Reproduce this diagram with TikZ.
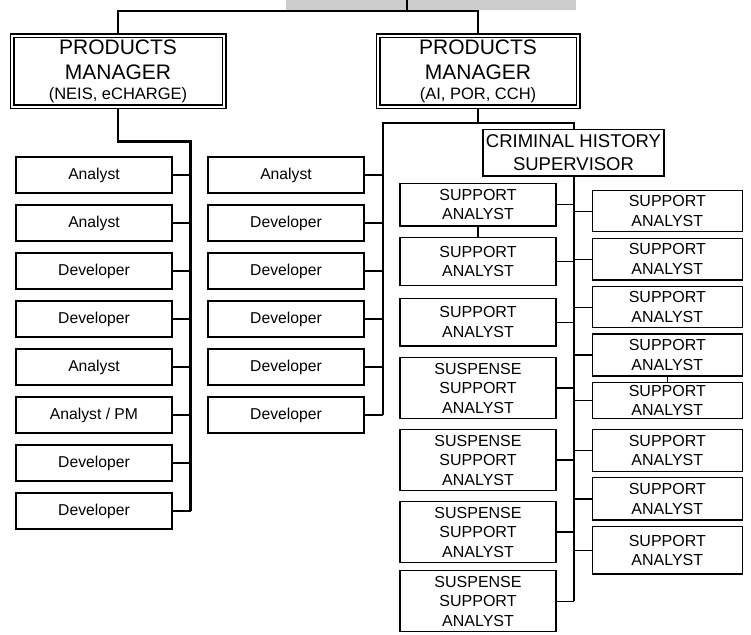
\documentclass[tikz,border=0pt]{standalone}
\usepackage{fontspec}
\setmainfont{Liberation Sans}
\usetikzlibrary{backgrounds}

\begin{document}
\begin{tikzpicture}[x=1pt,y=-1pt,
  box/.style={draw, line width=1.4pt, fill=white, inner sep=0pt, align=center},
  staffbox/.style={box, minimum width=156pt, minimum height=36pt,
    font=\fontsize{15.7}{19}\selectfont},
  leftsup/.style={box, minimum width=156pt, font=\fontsize{16}{19.5}\selectfont},
  rightsup/.style={box, minimum width=150pt, font=\fontsize{16}{19.5}\selectfont},
  pmbox/.style={draw, line width=1.5pt, double, double distance=2pt, fill=white,
    inner sep=0pt, align=center, minimum height=71pt,
    font=\fontsize{21}{25}\selectfont},
  link/.style={line width=1.4pt},
  trunk/.style={line width=2pt},
  heavytrunk/.style={line width=2.6pt},
]
\useasboundingbox (0,0) rectangle (751,634);

% managers
\node[pmbox, minimum width=212pt] (pmA) at (118,71.3)
  {PRODUCTS\\MANAGER\\[-5pt]{\fontsize{16.5}{18}\selectfont(NEIS, eCHARGE)}};
\node[pmbox, minimum width=200pt] (pmB) at (478,71.3)
  {PRODUCTS\\MANAGER\\[-5pt]{\fontsize{16.5}{18}\selectfont(AI, POR, CCH)}};

% first team
\foreach \n/\t [count=\i from 0] in {a1/Analyst, a2/Analyst, a3/Developer,
    a4/Developer, a5/Analyst, a6/{Analyst / PM}, a7/Developer, a8/Developer}
  \node[staffbox] (\n) at (94,175+48*\i) {\t};

% second team
\foreach \n/\t [count=\i from 0] in {b1/Analyst, b2/Developer, b3/Developer,
    b4/Developer, b5/Developer, b6/Developer}
  \node[staffbox] (\n) at (286,175+48*\i) {\t};

% criminal history unit
\node[box, minimum width=181pt, minimum height=46.7pt,
  font=\fontsize{18.5}{22.6}\selectfont] (chs) at (573.5,152.7)
  {CRIMINAL HISTORY\\SUPERVISOR};

\node[leftsup, minimum height=42.7pt] (sa1) at (478,204.7) {SUPPORT\\ANALYST};
\node[leftsup, minimum height=48pt]   (sa2) at (478,261.7) {SUPPORT\\ANALYST};
\node[leftsup, minimum height=47.7pt] (sa3) at (478,322.2) {SUPPORT\\ANALYST};
\node[leftsup, minimum height=60.6pt] (ss1) at (478,388)   {SUSPENSE\\SUPPORT\\ANALYST};
\node[leftsup, minimum height=61.4pt] (ss2) at (478,460)   {SUSPENSE\\SUPPORT\\ANALYST};
\node[leftsup, minimum height=60.6pt] (ss3) at (478,532)   {SUSPENSE\\SUPPORT\\ANALYST};
\node[leftsup, minimum height=61pt]   (ss4) at (478,601.2) {SUSPENSE\\SUPPORT\\ANALYST};

\node[rightsup, minimum height=41pt]   (r1) at (667.3,211.2) {SUPPORT\\ANALYST};
\node[rightsup, minimum height=41.7pt] (r2) at (667.3,259.2) {SUPPORT\\ANALYST};
\node[rightsup, minimum height=41pt]   (r3) at (667.3,307.2) {SUPPORT\\ANALYST};
\node[rightsup, minimum height=42pt]   (r4) at (667.3,355)   {SUPPORT\\ANALYST};
\node[rightsup, minimum height=36pt]   (r5) at (667.3,400.3) {SUPPORT\\ANALYST};
\node[rightsup, minimum height=42.4pt] (r6) at (667.3,450.5) {SUPPORT\\ANALYST};
\node[rightsup, minimum height=42.3pt] (r7) at (667.3,498.8) {SUPPORT\\ANALYST};
\node[rightsup, minimum height=47.3pt] (r8) at (667.3,550.3) {SUPPORT\\ANALYST};

\begin{scope}[on background layer]
  % parent box, cut at the top edge
  \node[fill=gray!40, minimum width=290pt, minimum height=10pt, inner sep=0pt]
    (top) at (431,5) {};
  \coordinate (drop) at (407,0);
  \coordinate (bus) at (407,11);
  \draw[trunk] (drop) -- (bus);
  \draw[trunk] (pmA.north) |- (bus) -| (pmB.north);

  % first team trunk
  \coordinate (ka) at (190.7,141.7);
  \draw[heavytrunk] (pmA.south) |- (ka) -- (ka |- a8.east);
  \foreach \n in {a1,a2,a3,a4,a5,a6,a7,a8}
    \draw[link] (\n.east) -- (ka |- \n.east);

  % second team trunk and supervisor feed
  \coordinate (kb) at (382.7,122.7);
  \coordinate (kc) at (573.5,122.7);
  \draw[trunk] (pmB.south) -- (pmB.south |- kb);
  \draw[trunk] (kb |- b6.east) -- (kb) -- (kc) -- (chs.north);
  \foreach \n in {b1,b2,b3,b4,b5,b6}
    \draw[link] (\n.east) -- (kb |- \n.east);

  % support spine
  \draw[trunk] (chs.south) -- (chs.south |- ss4.east);
  \foreach \n in {sa1,sa2,sa3,ss1,ss2,ss3,ss4}
    \draw[link] (\n.east) -- (chs.south |- \n.east);
  \foreach \n in {r1,r2,r3,r4,r5,r6,r7,r8}
    \draw[link] (\n.west) -- (chs.south |- \n.west);
  \draw[link] (sa1.south) -- (sa2.north);
  \draw[link] (r4.south) -- (r5.north);
\end{scope}
\end{tikzpicture}
\end{document}
